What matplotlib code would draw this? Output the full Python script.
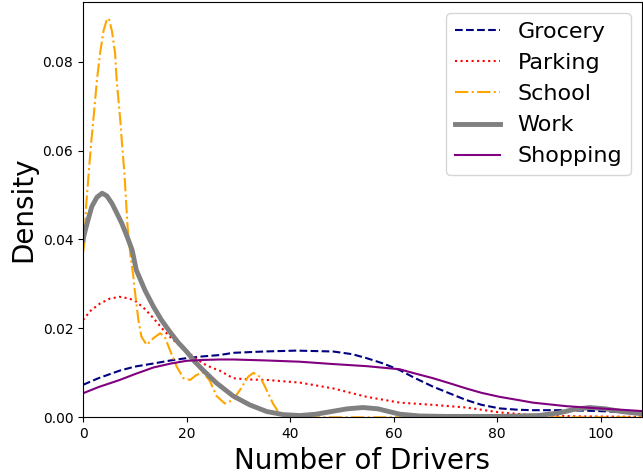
import matplotlib
matplotlib.use('Agg')
import matplotlib.pyplot as plt

# density curves (x = number of drivers)
grocery_x = [0, 3, 7.1, 10, 13.6, 17, 20.0, 23.2, 26.4, 29.0, 35, 41.2, 48.3, 52, 54.8, 58, 61.2, 64, 67.6, 71, 74.0, 77, 80.5, 84, 86.9, 93.4, 99.8, 104, 108]
grocery_y = [0.0073, 0.0088, 0.0105, 0.0114, 0.0121, 0.0128, 0.0133, 0.0137, 0.0140, 0.0145, 0.0148, 0.0150, 0.0148, 0.0142, 0.0133, 0.0121, 0.0106, 0.0089, 0.0069, 0.0053, 0.0039, 0.0028, 0.0020, 0.0017, 0.0016, 0.0016, 0.0014, 0.0012, 0.0009]

parking_x = [0, 1.5, 3.3, 5.2, 7.1, 9, 10.3, 12, 13.6, 15.2, 16.8, 18.4, 20.0, 21.6, 23.2, 24.8, 26.4, 29.0, 32, 35.5, 41.9, 48.3, 54.8, 61.2, 67.6, 74.0, 77, 80.5, 86.9, 92, 96.6, 108]
parking_y = [0.0219, 0.0240, 0.0256, 0.0267, 0.0271, 0.0267, 0.0260, 0.0243, 0.0223, 0.0201, 0.0181, 0.0164, 0.0148, 0.0134, 0.0121, 0.0112, 0.0105, 0.0088, 0.0085, 0.0084, 0.0078, 0.0065, 0.0046, 0.0033, 0.0028, 0.0022, 0.0017, 0.0011, 0.0005, 0.0003, 0.0002, 0.0001]

school_x = [0, 0.3, 0.6, 1.1, 1.6, 2.0, 2.7, 3.3, 4.0, 4.6, 5.0, 5.6, 6.2, 6.5, 7.2, 7.5, 8.0, 8.6, 9.2, 9.7, 10.0, 10.7, 11.3, 12.3, 13.6, 14.9, 15.8, 16.8, 18.1, 19.4, 20.7, 21.9, 23.2, 24.5, 25.8, 27.4, 29.0, 30.3, 31.9, 32.9, 34.2, 35.5, 36.7, 37.7, 39.0, 42, 108]
school_y = [0.0370, 0.0395, 0.0474, 0.0549, 0.0620, 0.0669, 0.0759, 0.0819, 0.0871, 0.0894, 0.0897, 0.0868, 0.0819, 0.0759, 0.0669, 0.0620, 0.0549, 0.0430, 0.0360, 0.0320, 0.0286, 0.0219, 0.0181, 0.0163, 0.0178, 0.0189, 0.0181, 0.0151, 0.0114, 0.0088, 0.0084, 0.0095, 0.0101, 0.0082, 0.0048, 0.0031, 0.0039, 0.0061, 0.0091, 0.0100, 0.0091, 0.0061, 0.0031, 0.0013, 0.0002, 0.0, 0.0]

work_x = [0, 0.45, 1.0, 1.7, 2.7, 3.7, 4.6, 5.6, 6.5, 7.5, 8.5, 9.5, 10.3, 12.0, 13.6, 15.2, 16.8, 18.4, 20.0, 21.6, 23.2, 25.8, 29.0, 32.2, 35.5, 38.7, 41.9, 45, 48, 51, 54.1, 57, 61.2, 65, 70, 80.5, 88, 92, 95, 97.9, 101, 104, 108]
work_y = [0.0399, 0.0421, 0.0445, 0.0474, 0.0495, 0.0504, 0.0498, 0.0481, 0.0460, 0.0436, 0.0407, 0.0376, 0.0331, 0.0285, 0.0249, 0.0218, 0.0192, 0.0168, 0.0148, 0.0125, 0.0106, 0.0077, 0.0048, 0.0028, 0.0013, 0.0006, 0.0004, 0.0007, 0.0013, 0.0019, 0.0022, 0.0019, 0.0007, 0.0003, 0.0002, 0.0002, 0.0004, 0.0010, 0.0018, 0.0022, 0.0019, 0.0013, 0.0008]

shopping_x = [0, 3, 7.1, 10, 13.6, 17, 20.0, 23.2, 26.4, 29.0, 35, 41.9, 48, 54.8, 61.2, 64, 67.6, 71, 74.0, 77, 80.5, 84, 86.9, 93.4, 99.8, 104, 108]
shopping_y = [0.0054, 0.0068, 0.0084, 0.0097, 0.0112, 0.0121, 0.0127, 0.0129, 0.0130, 0.0130, 0.0128, 0.0125, 0.0120, 0.0115, 0.0108, 0.0099, 0.0088, 0.0076, 0.0065, 0.0055, 0.0046, 0.0039, 0.0033, 0.0025, 0.0020, 0.0017, 0.0014]

fig = plt.figure(figsize=(6.43, 4.73), dpi=100)
ax = fig.add_axes([83 / 643, 1 - 417.3 / 473, 559 / 643, 415.3 / 473])

ax.plot(grocery_x, grocery_y, color='navy', linestyle='--', linewidth=1.5, label='Grocery')
ax.plot(parking_x, parking_y, color='red', linestyle=':', linewidth=1.5, label='Parking')
ax.plot(school_x, school_y, color='orange', linestyle='-.', linewidth=1.5, label='School')
ax.plot(work_x, work_y, color='gray', linestyle='-', linewidth=3.5, label='Work')
ax.plot(shopping_x, shopping_y, color='purple', linestyle='-', linewidth=1.5, label='Shopping')

ax.set_xlim(0, 108)
ax.set_ylim(0, 0.0934)
ax.set_xticks([0, 20, 40, 60, 80, 100])
ax.set_yticks([0, 0.02, 0.04, 0.06, 0.08])
ax.set_xlabel('Number of Drivers', fontsize=20)
ax.set_ylabel('Density', fontsize=20)
ax.legend(loc='upper right', fontsize=16)

fig.savefig('out.png', dpi=100)
